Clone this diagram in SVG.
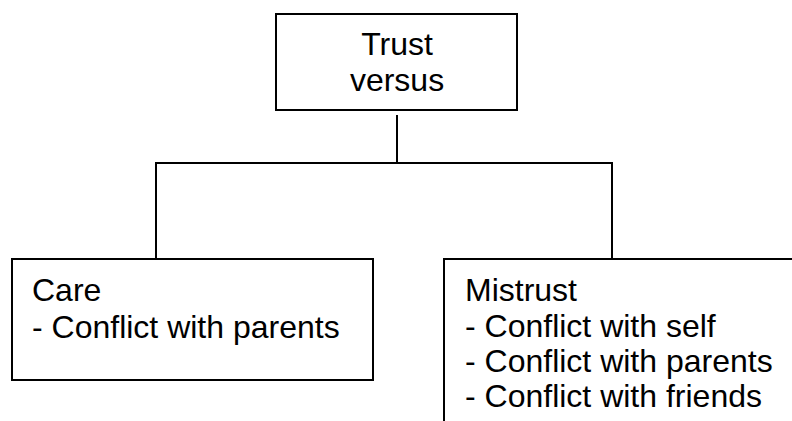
<svg xmlns="http://www.w3.org/2000/svg" width="792" height="421" viewBox="0 0 792 421">
  <style>
    .box { fill: #ffffff; stroke: #000000; stroke-width: 2; }
    .wire { fill: none; stroke: #000000; stroke-width: 2; stroke-linecap: square; }
    .label { font-family: "Liberation Sans", Arial, sans-serif; font-size: 32px; fill: #000000; }
  </style>
  <rect width="792" height="421" fill="#ffffff"/>

  <!-- connectors -->
  <g id="connectors">
    <line class="wire" x1="397" y1="116" x2="397" y2="163"/>
    <line class="wire" x1="156" y1="163" x2="612" y2="163"/>
    <line class="wire" x1="156" y1="163" x2="156" y2="259"/>
    <line class="wire" x1="612" y1="163" x2="612" y2="259"/>
  </g>

  <!-- root node -->
  <g id="trust">
    <rect class="box" x="276" y="14" width="241" height="96"/>
    <text class="label" x="397" y="55" text-anchor="middle">Trust</text>
    <text class="label" x="397" y="91" text-anchor="middle">versus</text>
  </g>

  <!-- left branch -->
  <g id="care">
    <rect class="box" x="12" y="259" width="361" height="121"/>
    <text class="label" x="32" y="301">Care</text>
    <text class="label" x="32" y="338">- Conflict with parents</text>
  </g>

  <!-- right branch -->
  <g id="mistrust">
    <rect class="box" x="444" y="259" width="360" height="180"/>
    <text class="label" x="465" y="301">Mistrust</text>
    <text class="label" x="465" y="337">- Conflict with self</text>
    <text class="label" x="465" y="372">- Conflict with parents</text>
    <text class="label" x="465" y="407">- Conflict with friends</text>
  </g>
</svg>
